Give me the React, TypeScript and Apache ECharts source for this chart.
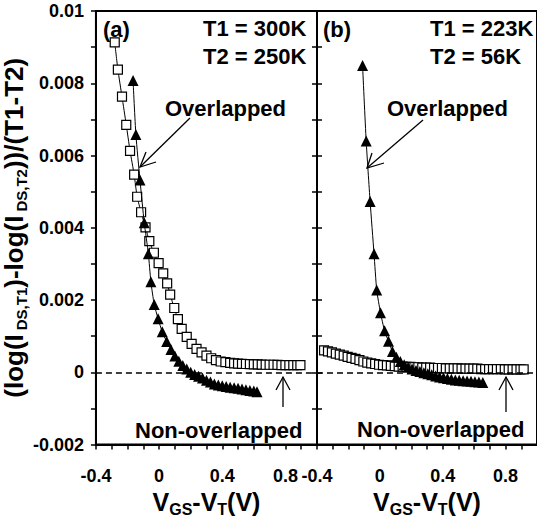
import React, { useEffect, useRef } from "react";
import * as echarts from "echarts";

// ---- Data (x: VGS-VT in V, y: (log(IDS,T1)-log(IDS,T2))/(T1-T2)) ----
// Panel (a): T1 = 300K, T2 = 250K
const leftSquares: [number, number][] = [
  [-0.281, 0.00913], [-0.261, 0.00838], [-0.235, 0.00763], [-0.208, 0.00685],
  [-0.184, 0.00613], [-0.158, 0.00547], [-0.139, 0.00486], [-0.114, 0.00443],
  [-0.086, 0.00401], [-0.062, 0.00363], [-0.033, 0.00331], [-0.003, 0.00302],
  [0.026, 0.00274], [0.051, 0.00246], [0.07, 0.00215], [0.096, 0.00178],
  [0.119, 0.00147], [0.143, 0.0012], [0.175, 0.00098], [0.206, 0.00079],
  [0.237, 0.00065], [0.269, 0.00055], [0.3, 0.00046], [0.33, 0.00039],
  [0.36, 0.00034], [0.39, 0.0003], [0.42, 0.00028], [0.45, 0.00026],
  [0.475, 0.00025], [0.5, 0.00024], [0.525, 0.000235], [0.55, 0.00023],
  [0.575, 0.000225], [0.6, 0.00022], [0.625, 0.00022], [0.65, 0.000215],
  [0.675, 0.00021], [0.7, 0.00021], [0.725, 0.00021], [0.75, 0.000205],
  [0.775, 0.0002], [0.8, 0.0002], [0.825, 0.0002], [0.85, 0.0002],
  [0.875, 0.0002], [0.895, 0.0002],
];
const leftTriangles: [number, number][] = [
  [-0.165, 0.00808], [-0.147, 0.00658], [-0.121, 0.00532], [-0.094, 0.00414],
  [-0.068, 0.00328], [-0.052, 0.00251], [-0.031, 0.00188], [-0.006, 0.00148],
  [0.02, 0.00112], [0.048, 0.00085], [0.075, 0.00063], [0.1, 0.00045],
  [0.125, 0.00031], [0.15, 0.00019], [0.175, 0.00009], [0.2, 0.0],
  [0.225, -0.00006], [0.25, -0.00011], [0.275, -0.00016], [0.3, -0.00022],
  [0.325, -0.00027], [0.35, -0.00032], [0.375, -0.00035], [0.4, -0.00037],
  [0.425, -0.00039], [0.45, -0.00041], [0.475, -0.00043], [0.5, -0.00044],
  [0.525, -0.00046], [0.55, -0.00048], [0.575, -0.0005], [0.6, -0.00052],
  [0.62, -0.00054],
];
// Panel (b): T1 = 223K, T2 = 56K
const rightSquares: [number, number][] = [
  [-0.355, 0.00061], [-0.33, 0.00058], [-0.305, 0.00055], [-0.28, 0.00052],
  [-0.255, 0.00049], [-0.23, 0.00046], [-0.205, 0.00043], [-0.18, 0.0004],
  [-0.155, 0.00037], [-0.13, 0.00034], [-0.105, 0.0003], [-0.08, 0.00027],
  [-0.055, 0.00025], [-0.03, 0.00023], [-0.005, 0.00021], [0.02, 0.0002],
  [0.045, 0.00019], [0.07, 0.00018], [0.095, 0.00017], [0.12, 0.00016],
  [0.145, 0.00016], [0.17, 0.00015], [0.195, 0.00015], [0.22, 0.00014],
  [0.245, 0.00014], [0.27, 0.00013], [0.295, 0.00013], [0.32, 0.00013],
  [0.345, 0.00012], [0.37, 0.00012], [0.395, 0.00012], [0.42, 0.00011],
  [0.445, 0.00011], [0.47, 0.00011], [0.495, 0.00011], [0.52, 0.0001],
  [0.545, 0.0001], [0.57, 0.0001], [0.595, 0.0001], [0.62, 0.0001],
  [0.645, 0.00009], [0.67, 0.00009], [0.695, 0.00009], [0.72, 0.00009],
  [0.745, 0.00009], [0.77, 0.00009], [0.795, 0.00008], [0.82, 0.00008],
  [0.845, 0.00008], [0.87, 0.00008], [0.895, 0.00008], [0.915, 0.00008],
];
const rightTriangles: [number, number][] = [
  [-0.11, 0.00849], [-0.087, 0.0064], [-0.062, 0.00473], [-0.037, 0.00328],
  [-0.02, 0.00228], [0.004, 0.00165], [0.03, 0.00115], [0.055, 0.00086],
  [0.08, 0.00058], [0.105, 0.00042], [0.13, 0.0003], [0.155, 0.00021],
  [0.18, 0.00014], [0.205, 0.00009], [0.23, 0.00005], [0.255, 0.00002],
  [0.28, -0.00001], [0.305, -0.00004], [0.33, -0.00007], [0.355, -0.0001],
  [0.38, -0.00013], [0.405, -0.00015], [0.43, -0.00017], [0.455, -0.00019],
  [0.48, -0.00021], [0.505, -0.00022], [0.53, -0.00023], [0.555, -0.00024],
  [0.58, -0.00025], [0.605, -0.00026], [0.63, -0.00027], [0.655, -0.00028],
];

const xTickValues = [-0.4, 0, 0.4, 0.8];
const xTickLabels = ["-0.4", "0", "0.4", "0.8"];
const yTickValues = [-0.002, 0, 0.002, 0.004, 0.006, 0.008, 0.01];
const yTickLabels = ["-0.002", "0", "0.002", "0.004", "0.006", "0.008", "0.01"];

const FONT = '"Liberation Sans", Arial, sans-serif';

const pick = (vals: number[], labels: string[]) => (v: number) => {
  const i = vals.findIndex((t) => Math.abs(t - v) < 1e-9);
  return i >= 0 ? labels[i] : "";
};

const xName = "{m|V}{s|GS}{m|-V}{s|T}{m|(V)}";
const xNameRich = {
  m: { fontSize: 25, fontWeight: "bold", fontFamily: FONT, color: "#000", lineHeight: 30 },
  s: { fontSize: 16, fontWeight: "bold", fontFamily: FONT, color: "#000", lineHeight: 18, verticalAlign: "bottom" },
};
const yName = "{m|(log(I}{s|DS,T1}{m|)-log(I}{s|DS,T2}{m|))/(T1-T2)}";
const yNameRich = {
  m: { fontSize: 26, fontWeight: "bold", fontFamily: FONT, color: "#000", lineHeight: 30 },
  s: { fontSize: 15, fontWeight: "bold", fontFamily: FONT, color: "#000", lineHeight: 17, verticalAlign: "bottom", padding: [0, 0, 0, 4] },
};

function makeX(gridIndex: number) {
  return {
    type: "value",
    gridIndex,
    min: -0.4,
    max: 1.0,
    interval: 0.1,
    name: xName,
    nameLocation: "middle",
    nameGap: 39,
    nameTextStyle: { rich: xNameRich },
    axisLine: { show: true, onZero: false, lineStyle: { color: "#000", width: 2 } },
    axisTick: { show: true, length: 5, lineStyle: { color: "#000", width: 1.5 } },
    axisLabel: {
      formatter: pick(xTickValues, xTickLabels),
      fontSize: 18,
      fontWeight: "bold",
      fontFamily: FONT,
      color: "#000",
      margin: 22,
      showMaxLabel: false,
    },
    splitLine: { show: false },
  };
}

const symbolLine = (name: string, data: [number, number][], g: number, kind: "sq" | "tri", withDash: boolean) => ({
  type: "line",
  name,
  xAxisIndex: g,
  yAxisIndex: g === 0 ? 0 : 1,
  data,
  smooth: 0.2,
  symbol: kind === "sq" ? "rect" : "triangle",
  symbolSize: kind === "sq" ? 9 : 11,
  showAllSymbol: true,
  lineStyle: { color: "#000", width: 1 },
  itemStyle: kind === "sq"
    ? { color: "#fff", borderColor: "#000", borderWidth: 1.2 }
    : { color: "#000", borderColor: "#000", borderWidth: 0 },
  z: kind === "sq" ? 3 : 4,
  markLine: withDash
    ? {
        silent: true,
        symbol: ["none", "none"],
        label: { show: false },
        lineStyle: { color: "#000", type: [6, 4], width: 1.5 },
        data: [{ yAxis: 0 }],
      }
    : undefined,
});

const txt = (text: string, x: number, y: number) => ({
  type: "text",
  x,
  y,
  style: {
    text,
    fill: "#000",
    fontSize: 22,
    fontWeight: "bold",
    fontFamily: FONT,
    verticalAlign: "middle",
    align: "left",
  },
  z: 10,
});
const pl = (points: number[][]) => ({
  type: "polyline",
  shape: { points },
  style: { stroke: "#000", lineWidth: 1.3, fill: null },
  z: 10,
});

export default function App() {
  const ref = useRef<HTMLDivElement>(null);
  useEffect(() => {
    if (!ref.current) return;
    const chart = echarts.init(ref.current, undefined, { renderer: "svg" });
    const yBase = {
      type: "value",
      min: -0.002,
      max: 0.01,
      interval: 0.001,
      axisLine: { show: true, onZero: false, lineStyle: { color: "#000", width: 2 } },
      splitLine: { show: false },
    };
    chart.setOption({
      animation: false,
      backgroundColor: "#fff",
      grid: [
        { left: 95, top: 11, width: 222, height: 442, show: true, borderColor: "#000", borderWidth: 2, backgroundColor: "transparent" },
        { left: 317, top: 11, width: 224, height: 442, show: true, borderColor: "#000", borderWidth: 2, backgroundColor: "transparent" },
      ],
      xAxis: [makeX(0), makeX(1)],
      yAxis: [
        {
          ...yBase,
          gridIndex: 0,
          name: yName,
          nameLocation: "middle",
          nameRotate: 90,
          nameGap: 61,
          nameTextStyle: { rich: yNameRich },
          axisTick: { show: true, length: 5, lineStyle: { color: "#000", width: 1.5 } },
          axisLabel: {
            formatter: pick(yTickValues, yTickLabels),
            fontSize: 18,
            fontWeight: "bold",
            fontFamily: FONT,
            color: "#000",
            margin: 12,
          },
        },
        {
          ...yBase,
          gridIndex: 1,
          axisTick: { show: true, length: 5, lineStyle: { color: "#000", width: 1.5 } },
          axisLabel: { show: false },
        },
        {
          ...yBase,
          gridIndex: 1,
          position: "left",
          offset: 0,
          axisTick: { show: true, inside: true, length: 5, lineStyle: { color: "#000", width: 1.5 } },
          axisLabel: { show: false },
        },
      ],
      series: [
        symbolLine("a-squares", leftSquares, 0, "sq", true),
        symbolLine("a-triangles", leftTriangles, 0, "tri", false),
        symbolLine("b-squares", rightSquares, 1, "sq", true),
        symbolLine("b-triangles", rightTriangles, 1, "tri", false),
      ],
      graphic: [
        txt("(a)", 103, 29),
        txt("T1 = 300K", 203, 28),
        txt("T2 = 250K", 203, 56),
        txt("(b)", 323, 29),
        txt("T1 = 223K", 430, 28),
        txt("T2 = 56K", 430, 56),
        txt("Overlapped", 165, 108),
        txt("Overlapped", 387, 108),
        txt("Non-overlapped", 135, 430),
        txt("Non-overlapped", 357, 429),
        pl([[190, 118], [140, 167]]),
        pl([[146, 152], [140, 167], [156, 162]]),
        pl([[423, 120], [367, 168]]),
        pl([[372, 153], [367, 168], [384, 163]]),
        pl([[283, 407], [283, 377]]),
        pl([[276, 390], [283, 377], [290, 390]]),
        pl([[506, 412], [506, 377]]),
        pl([[499, 390], [506, 377], [513, 390]]),
      ],
    });
    return () => chart.dispose();
  }, []);
  return (
    <div
      ref={ref}
      style={{ position: "absolute", left: 0, top: 0, width: 537, height: 522, background: "#fff" }}
    />
  );
}
